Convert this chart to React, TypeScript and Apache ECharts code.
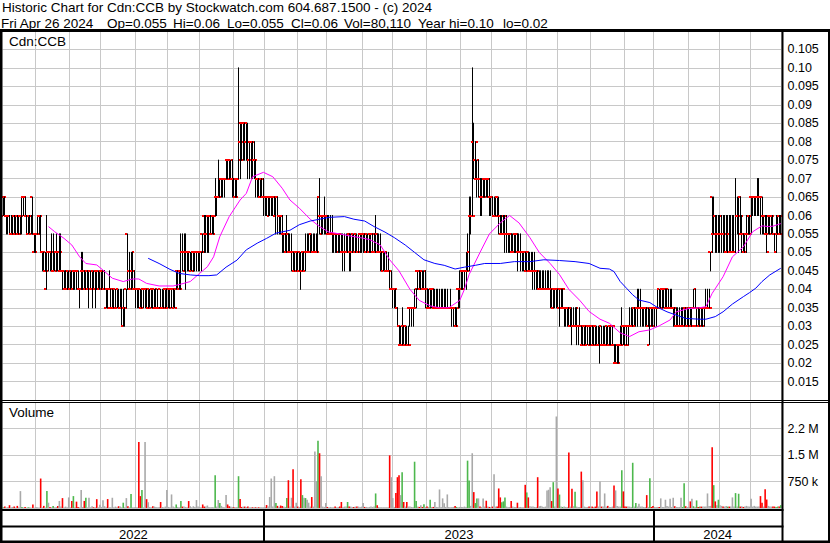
import React, { useEffect, useRef } from 'react';
import * as echarts from 'echarts';

const FONT = 'Liberation Sans';

// Trading calendar (TSX-V): weekdays between these dates, minus exchange holidays
const FIRST_DAY = '2022-05-02';
const LAST_DAY = '2024-04-26';
const HOLIDAYS = [
  '2022-05-23', '2022-07-01', '2022-08-01', '2022-09-05', '2022-10-10', '2022-12-26', '2022-12-27',
  '2023-01-02', '2023-02-20', '2023-04-07', '2023-05-22', '2023-07-03', '2023-08-07', '2023-09-04',
  '2023-10-09', '2023-12-25', '2023-12-26', '2024-01-01', '2024-02-19', '2024-03-29',
];

// Daily prices in cents, one line per month (May 2022 ... Apr 2024)
const opens = [
  6,6.5,6,6,6,5.5,5.5,6,5.5,6,5.5,6,6,6.5,6.5,6,5.5,6,5.5,6.5,5,
  5.5,5.5,6,6,5,5,4.5,4,5,5,5,4.5,4.5,5,5,5,4.5,4.5,4.5,4,4,4.5,
  4,4.5,4,4.5,4.5,4.5,4,4,4.5,4.5,4,4.5,4,4.5,4,4.5,4,4.5,4.5,4,
  4.5,4.5,4,3.5,4,4,4,3.5,3.5,4,3.5,4,3.5,3.5,3,3.5,4,5.5,4.5,4,4.5,4,
  4,4,4,4,3.5,4,4,4,3.5,4,3.5,4,4,3.5,3.5,3.5,4,3.5,3.5,4,4,
  3.5,4,4,4,3.5,4,4.5,4,4.5,5,5,5,5,5,5,4.5,5,5,5,5,
  5,5,5.5,6,5.5,5.5,6,6,5.5,6,6,6.5,6.5,6.5,7,7,7,7,7.5,7.5,7.5,7,
  7,6.5,7,7,8,8.5,8.5,8.5,8,8.5,7.5,8,8,7.5,7.5,7,7,6.5,7,6.5,
  6.5,6.5,6.5,6.5,6.5,6.5,6.5,6,6.5,6,6,6,5.5,5.5,5,5.5,5,5,5,4.5,5,
  5,4.5,5,4.5,5,4.5,5,5,5,5.5,5,5,5,5,6.5,6,6,6,6,
  6,5.5,5.5,5.5,5.5,5.5,5.5,5.5,5.5,5.5,5,5,5,5,5.5,5,5,5.5,5,5.5,5,5.5,5.5,
  5.5,5.5,5,5.5,5,5.5,5.5,5,5,5.5,5,5,5,4.5,5,4.5,4.5,4.5,4,
  4,4,4,3.5,3,2.5,2.5,3,2.5,3,2.5,3.5,3.5,3.5,3.5,3.5,4.5,4.5,4,4.5,4,4,
  4,3.5,3.5,4,4,3.5,3.5,3.5,3.5,3.5,3.5,3.5,3.5,3.5,3.5,3.5,3.5,3.5,3.5,3,4,4,
  4,4.5,4.5,4.5,4.5,5,6,6,8,7.5,7,7,7,6.5,6.5,7,7,7,7,6.5,
  6.5,6,6,6.5,6.5,6,5.5,5.5,5.5,5.5,5.5,5.5,5.5,5,5,5.5,5.5,5,5,5,5,5,
  4.5,5,4.5,4.5,4.5,4.5,4.5,4.5,4,4,4,4,4,4,4,4,4,3.5,4,4,
  4,3.5,4,3.5,3.5,3.5,3.5,3.5,3,3.5,3,3,3,3,3,3,2.5,3,3,2.5,3,
  3,3,2.5,3,3,2.5,2.5,3,2.5,2.5,2.5,3,2.5,3,3,2.5,2,2,2.5,2.5,2.5,3,
  3,3,3,3,3,3,3.5,3,3.5,3.5,3.5,3.5,3.5,3.5,3.5,3,2.5,3.5,3.5,
  3.5,3.5,3.5,4,3.5,4,4,4,3.5,3.5,3.5,3.5,3.5,3.5,3,3,3,3,3,3,3.5,3,
  3,3.5,3,3.5,3.5,3,3.5,3,3.5,3.5,3.5,3.5,3.5,3.5,5,6.5,5.5,6,5.5,5.5,
  5.5,5.5,5.5,5.5,5,5,5.5,5,5,5,5,6,6,6.5,5.5,5.5,5,5.5,5.5,6,
  6.5,6.5,6.5,6.5,6.5,6.5,6.5,6.5,6,6,5.5,5.5,6,6,6,5.5,5,5.5,6,5.5,
];
const highs = [
  6.5,6.5,6,6,6,6,6,6,6,6,6,6,6.5,6.5,6.5,6,6,6,6,6.5,5.5,
  5.5,6,6,6,5,5,5,6,5,5,5.5,5.5,5,5.5,5,5.5,5.5,4.5,4.5,4.5,4.5,4.5,
  4.5,4.5,4.5,4.5,4.5,4.5,4,5,5,4.5,4.5,4.5,4.5,4.5,4.5,4.5,4.5,4.5,4.5,4.5,
  4.5,4.5,4.5,4,4,4.5,4,4,4,4,4,4,4,4,4,3.5,4,5.5,5,5,5,4.5,
  4,4,4,4,4,4,4,4,4,4,4,4,4,4,4,3.5,4,4,4,4,4,
  4,4,4,4,4,4.5,4.5,4.5,5.5,5.5,5.5,5.5,5,5,5,5,5,5,5,5,
  5,5,5.5,6,6,6,6,6,6,6,7,6.5,7.5,7,7,7,7,7.5,7.5,7.5,7.5,7.5,
  7,7,7,10,8.5,8.5,8.5,8.5,8.5,8.5,8,8,8,8,7.5,7,7,7,7,7,
  6.5,6.5,6.5,6.5,6.5,6.5,6.5,6.5,6.5,6,6,6,5.5,5.5,6,5.5,5.5,5.5,5,5,5,
  5,5,5,5,5,5.5,5.5,5.5,5.5,5.5,5.5,5.5,5.5,6.5,7,6,6,6.5,6,
  6,6,6,6,5.5,5.5,5.5,5.5,5.5,5.5,5.5,5.5,5.5,5.5,5.5,5.5,5.5,5.5,5.5,5.5,5.5,5.5,5.5,
  5.5,5.5,5.5,5.5,5.5,5.5,5.5,5.5,6,5.5,5.5,5.5,5,5,5,5,5,4.5,4.5,
  4,4,4,3.5,3,3,3.5,3,3,3,3,3.5,3.5,3.5,4,4,4.5,4.5,4.5,4.5,4.5,4.5,
  4,4,4,4,4,4,4,4,4,4,4,4,4,4,3.5,4,3.5,3.5,3.5,3.5,4,4.5,
  4.5,4.5,4.5,5,5.5,6.5,6.5,10,8.5,8,7.5,7.5,7,7,7,7,7,7,7,6.5,
  6.5,6.5,6.5,6.5,6.5,6,6,6,6,6,5.5,5.5,5.5,5.5,5.5,5.5,5.5,5.5,5.5,5,5,5,
  5,5,5,5,5,5,4.5,4.5,4.5,4.5,4.5,4.5,4.5,4.5,4.5,4.5,4,4,4,4,
  4,4,4,4,3.5,3.5,3.5,3.5,3.5,3.5,3.5,3.5,3.5,3,3.5,3,3,3,3,3,3,
  3,3,3,3,3,3,3,3,3,3,3,3,3,3,3,2.5,2.5,2.5,2.5,3,3.5,3,
  3,3,3,3.5,3.5,3.5,3.5,3.5,4,4,4,3.5,3.5,3.5,3.5,3.5,3.5,3.5,3.5,
  3.5,3.5,4,4,4,4,4,4,4,4,4,4,3.5,3.5,3.5,3.5,3.5,3.5,3.5,3.5,3.5,3.5,
  3.5,3.5,3.5,4,4,3.5,3.5,3.5,3.5,3.5,3.5,4,4,4,5,6.5,6.5,6,6,6,
  6,6,6,6,6,6,6,6,6,6,7,6.5,6.5,6.5,6,5.5,5.5,6,6,6,
  6.5,6.5,6.5,6.5,7,7,6.5,6.5,6,6,6,6,6,6,6,5.5,6,6,6,6,
];
const lows = [
  6,6,5.5,5.5,5.5,5.5,5.5,5.5,5.5,5.5,5.5,5.5,5.5,6,6,5.5,5.5,5.5,5.5,5.5,5,
  5,5.5,5.5,5,4.5,4.5,4.5,4,4.5,4.5,4.5,4.5,4.5,4.5,4.5,4.5,4.5,4,4,4,4,4,
  4,4,4,4,4,4,3.5,4,4,4,4,4,3.5,4,3.5,4,3.5,4,4,4,
  4,4,4,3.5,3.5,4,3.5,3.5,3.5,3.5,3.5,3.5,3.5,3,3,3,3.5,4,4,4,4,4,
  3.5,3.5,3.5,3.5,3.5,3.5,3.5,3.5,3.5,3.5,3.5,3.5,3.5,3.5,3.5,3.5,3.5,3.5,3.5,3.5,3.5,
  3.5,3.5,3.5,3.5,3.5,4,4,4,4,4.5,4.5,4,4.5,4.5,4.5,4.5,4.5,4.5,4.5,4.5,
  4.5,4.5,5,5,5,5,5,5.5,5.5,5.5,6,6,6.5,6.5,6.5,6.5,6.5,7,7,7,7,6.5,
  6.5,6.5,6.5,7,7,7.5,7.5,7.5,7.5,7,7,7,7,7,6.5,6.5,6.5,6.5,6.5,6,
  6,6,6,6,6,6,6,5.5,5.5,5.5,5.5,5,5,5,5,5,5,4.5,4.5,4.5,4.5,
  4.5,4.5,4,4.5,4.5,4.5,5,5,5,5,5,5,5,5,5.5,5.5,5.5,5.5,5.5,
  5.5,5.5,5.5,5,5,5,5,5,5,5,4.5,4.5,5,5,4.5,4.5,5,5,5,5,5,5,5,
  5,5,5,5,5,5,5,5,5,5,5,4.5,4.5,4.5,4.5,4.5,4.5,4,4,
  3.5,3.5,3.5,3,2.5,2.5,2.5,2.5,2.5,2.5,2.5,3,3,3,3.5,3.5,4,4,4,4,4,3.5,
  3.5,3.5,3.5,3.5,3.5,3.5,3.5,3.5,3.5,3.5,3.5,3.5,3.5,3.5,3.5,3.5,3,3,3,3,3.5,3.5,
  4,4,4,4,4.5,4.5,5.5,6,7,7,6.5,6.5,6,6,6.5,6.5,6.5,6.5,6,6,
  6,6,6,6,5.5,5.5,5.5,5.5,5,5,5,5,5,5,5,5,4.5,5,4.5,4.5,4.5,4.5,
  4.5,4.5,4.5,4.5,4,4,4,4,4,4,4,4,4,4,4,3.5,3.5,3.5,3.5,3.5,
  3.5,3,3.5,3.5,3,3,3,3,3,2.5,3,3,2.5,2.5,3,2.5,2.5,2.5,2.5,2.5,2.5,
  2.5,2.5,2.5,2.5,2.5,2.5,2,2.5,2.5,2.5,2.5,2.5,2.5,2.5,2.5,2,2,2,2,2.5,2.5,2.5,
  2.5,2.5,2.5,3,3,3,3,3,3,3.5,3,3,3,3,3,3,2.5,3,3,
  3,3,3.5,3.5,3.5,3.5,3.5,3.5,3.5,3.5,3.5,3.5,3,3,3,3,3,3,3,3,3,3,
  3,3,3,3.5,3.5,3,3,3,3,3,3,3.5,3.5,3.5,4.5,5,5.5,5,5,5,
  5,5,5,5,5,5,5,5,5,5,5,5.5,5,5.5,5,5,5,5,5.5,5.5,
  5.5,6,6,6,6,6,5.5,5.5,5.5,5.5,5,5.5,5.5,5.5,5.5,5,5,5.5,5.5,5.5,
];
const closes = [
  6.5,6,6,6,5.5,5.5,5.5,5.5,5.5,5.5,5.5,6,6.5,6.5,6,6,6,6,5.5,5.5,5,
  5.5,5.5,6,5,5,4.5,4.5,5,5,4.5,5,5,4.5,5,4.5,5,4.5,4,4.5,4,4,4.5,
  4,4,4.5,4.5,4,4,4,4,4.5,4,4.5,4.5,4,4.5,4,4,4,4,4.5,4,
  4.5,4.5,4,3.5,3.5,4,4,3.5,3.5,4,3.5,3.5,3.5,3.5,3.5,3.5,4,4.5,4.5,5,4.5,4,
  4,4,3.5,3.5,4,4,4,3.5,3.5,4,3.5,3.5,4,3.5,3.5,3.5,3.5,3.5,3.5,4,4,
  3.5,4,4,4,3.5,4.5,4.5,4,5,4.5,5,5,5,4.5,5,4.5,5,5,5,5,
  5,5,5,5.5,5.5,5.5,6,6,5.5,6,6.5,6.5,6.5,7,7,7,7,7,7,7,7.5,7,
  6.5,6.5,7,7.5,7.5,8,8.5,8,8,7.5,7.5,8,7.5,7.5,7,7,6.5,6.5,7,6.5,
  6.5,6,6.5,6.5,6.5,6.5,6.5,6.5,6,6,5.5,5.5,5.5,5.5,5.5,5,5,5,4.5,4.5,5,
  4.5,4.5,4.5,5,5,5,5,5,5,5,5,5,5,6,5.5,6,6,6,6,
  5.5,5.5,5.5,5.5,5.5,5,5.5,5.5,5,5,5,5,5,5.5,5,5,5,5,5,5,5,5.5,5.5,
  5.5,5,5,5.5,5,5.5,5.5,5,5.5,5,5,5,5,4.5,5,4.5,4.5,4,4,
  4,4,3.5,3,2.5,2.5,3,2.5,2.5,2.5,2.5,3.5,3.5,3.5,4,4,4.5,4,4,4,4.5,4,
  3.5,3.5,4,4,3.5,3.5,3.5,3.5,3.5,3.5,3.5,3.5,3.5,3.5,3.5,3.5,3.5,3.5,3,3.5,4,4,
  4,4.5,4.5,4.5,5,6,6,6,7.5,8,7.5,7,6.5,6.5,6.5,7,6.5,7,6.5,6.5,
  6,6,6,6,6,5.5,6,6,6,5.5,5.5,5.5,5,5,5,5.5,5,5,5,5,5,4.5,
  5,4.5,4.5,4.5,4.5,4.5,4.5,4,4,4,4,4,4,4,4,4,3.5,4,4,4,
  3.5,4,4,4,3.5,3.5,3.5,3,3,3,3,3.5,3,3,3,2.5,2.5,3,3,2.5,2.5,
  3,2.5,2.5,2.5,2.5,2.5,2.5,2.5,2.5,2.5,2.5,2.5,2.5,3,3,2,2,2,2.5,2.5,3,2.5,
  2.5,2.5,3,3,3,3.5,3.5,3.5,3.5,3.5,3.5,3.5,3.5,3.5,3,3,3.5,3,3,
  3.5,3.5,3.5,3.5,3.5,4,4,4,3.5,3.5,3.5,3.5,3.5,3,3,3,3,3,3.5,3.5,3,3,
  3,3,3,4,3.5,3.5,3,3.5,3,3.5,3.5,3.5,3.5,3.5,5,5.5,6,5.5,5.5,6,
  5.5,5.5,5,5.5,5,5.5,5,5,5,5,6,6,6.5,6,5.5,5,5,5.5,5.5,6,
  6.5,6.5,6.5,6.5,6.5,6.5,6,6,6,5.5,5,5.5,6,6,5.5,5,5.5,6,5.5,6,
];
// Daily volume in thousands of shares
const volumesK = [
  20,40,15,30,80,20,30,40,15,60,20,478,30,15,30,10,20,20,10,100,10,
  30,20,15,834,20,60,15,478,150,30,20,60,20,30,60,200,40,280,20,40,20,300,
  20,200,337,20,180,30,20,506,30,200,290,20,290,20,50,20,20,250,20,90,
  30,220,50,20,253,20,20,290,20,40,20,50,40,20,150,20,280,50,20,394,20,20,
  30,20,1870,337,506,20,1870,250,160,30,20,50,40,30,20,30,170,30,20,40,506,
  30,20,384,40,20,100,30,20,197,40,40,30,20,197,50,20,50,30,225,40,
  30,20,100,40,40,70,30,20,30,20,928,40,225,140,60,30,20,365,100,50,40,30,
  20,20,30,900,253,30,40,40,30,40,20,20,20,20,20,20,20,20,20,20,
  30,84,40,310,834,40,900,140,60,30,70,60,40,30,281,787,40,290,1100,40,150,
  40,30,815,365,290,281,234,150,40,310,40,1600,760,1900,1550,900,40,30,140,
  30,20,30,20,20,40,20,30,40,170,30,40,40,170,40,40,30,28,40,40,40,30,40,
  140,30,30,20,30,40,30,40,412,75,30,20,20,20,20,20,20,1490,872,
  281,30,422,872,928,365,1010,170,40,170,40,40,30,30,1310,200,40,30,75,30,103,30,
  40,30,234,30,30,169,30,30,525,30,272,131,30,384,30,20,30,30,56,30,20,30,
  30,30,40,30,1340,778,60,1550,450,140,272,272,40,30,272,40,206,40,30,30,
  40,956,40,40,553,300,160,187,300,40,30,30,197,40,30,30,150,30,30,20,20,656,
  440,300,50,40,40,30,30,872,50,60,40,30,40,497,516,590,197,731,40,2590,
  553,380,40,30,40,30,30,1570,40,543,50,459,40,30,30,1030,787,40,30,30,40,
  40,40,30,40,469,40,750,40,40,412,40,60,30,30,40,637,497,60,40,40,1070,470,
  40,40,40,40,30,1280,40,140,40,120,40,40,30,30,365,30,844,30,60,
  30,30,30,30,272,30,30,234,60,40,262,30,290,50,30,30,30,290,30,703,50,30,
  30,187,262,50,30,215,30,40,40,40,40,40,412,60,60,1720,647,187,80,234,
  80,60,40,40,60,40,40,40,300,40,422,40,403,40,50,30,40,60,40,40,
  262,40,60,40,40,40,337,150,40,534,240,60,40,40,40,40,30,40,40,80.11,
];
// Moving averages: [trading-day index, cents]
const maFast = [
  [29,5.70],[33,5.56],[39,5.38],[44,5.20],[49,4.88],[53,4.70],[60,4.66],[64,4.52],[70,4.30],[77,4.21],
  [83,4.28],[87,4.28],[92,4.16],[100,4.09],[109,4.09],[114,4.14],[120,4.21],[126,4.43],[131,4.61],[135,4.88],
  [139,5.43],[145,5.97],[152,6.42],[156,6.60],[160,7.05],[167,7.17],[173,7.05],[179,6.74],[184,6.42],[190,6.2],
  [197,5.9],[203,5.7],[209,5.55],[216,5.5],[222,5.45],[229,5.4],[235,5.35],[242,5.2],[248,4.8],[254,4.5],
  [261,4.0],[267,3.7],[274,3.55],[280,3.5],[286,3.5],[293,3.7],[296,4.0],[299,4.4],[306,5.0],[312,5.5],
  [319,5.8],[325,6.0],[331,5.8],[338,5.4],[344,5.0],[351,4.7],[357,4.4],[363,4.0],[370,3.7],[376,3.4],
  [383,3.19],[389,3.08],[396,2.82],[402,2.72],[408,2.85],[415,2.90],[421,3.01],[428,3.17],[432,3.39],[440,3.48],
  [447,3.50],[451,3.53],[455,3.89],[462,4.34],[468,4.88],[475,5.15],[481,5.56],[487,5.72],[491,5.70],[494,5.71],
  [499,5.78],
];
const maSlow = [
  [93,4.84],[100,4.70],[107,4.54],[113,4.43],[120,4.39],[126,4.37],[132,4.37],[137,4.39],[143,4.60],[150,4.79],
  [156,5.07],[163,5.25],[169,5.38],[175,5.52],[184,5.6],[190,5.75],[197,5.85],[203,5.9],[209,5.95],[219,5.97],
  [225,5.9],[232,5.85],[238,5.7],[245,5.55],[251,5.4],[258,5.2],[264,5.0],[270,4.8],[277,4.7],[283,4.65],
  [290,4.55],[296,4.6],[303,4.65],[309,4.7],[319,4.7],[328,4.75],[338,4.75],[347,4.8],[357,4.78],[367,4.75],
  [376,4.7],[383,4.57],[389,4.55],[392,4.48],[396,4.21],[400,4.03],[404,3.85],[408,3.71],[415,3.64],[419,3.53],
  [426,3.39],[432,3.30],[438,3.21],[447,3.19],[451,3.19],[457,3.26],[462,3.39],[468,3.60],[475,3.80],[479,3.91],
  [483,4.03],[487,4.21],[492,4.39],[499,4.57],
];

const TITLE = 'Historic Chart for Cdn:CCB by Stockwatch.com 604.687.1500 - (c) 2024';
const HEADER_ITEMS: [string, number][] = [
  ['Fri Apr 26 2024', 1], ['Op=0.055', 107], ['Hi=0.06', 173], ['Lo=0.055', 227],
  ['Cl=0.06', 291], ['Vol=80,110', 344], ['Year hi=0.10', 418], ['lo=0.02', 503],
];

function tradingDays(): string[] {
  const out: string[] = [];
  const d = new Date(FIRST_DAY + 'T00:00:00Z');
  const end = new Date(LAST_DAY + 'T00:00:00Z');
  while (d.getTime() <= end.getTime()) {
    const wd = d.getUTCDay();
    const s = d.toISOString().slice(0, 10);
    if (wd !== 0 && wd !== 6 && HOLIDAYS.indexOf(s) < 0) out.push(s);
    d.setUTCDate(d.getUTCDate() + 1);
  }
  return out;
}

const PLOT_L = 2.5;
const PLOT_W = 779;

export default function App() {
  const ref = useRef<HTMLDivElement>(null);
  useEffect(() => {
    const el = ref.current;
    if (!el) return;
    const chart = echarts.init(el, undefined, { renderer: 'svg', width: 830, height: 543 });
    const dates = tradingDays();
    const N = Math.min(dates.length, opens.length, highs.length, lows.length, closes.length, volumesK.length);
    const cats = dates.slice(0, N);
    const isMonthStart = (i: number) => i > 0 && i < N && cats[i].slice(0, 7) !== cats[i - 1].slice(0, 7);

    const ohlc = cats.map((_, i) => [i, opens[i] / 100, highs[i] / 100, lows[i] / 100, closes[i] / 100]);
    const vol = cats.map((_, i) => {
      const up = closes[i] > opens[i];
      const dn = closes[i] < opens[i];
      return {
        value: volumesK[i] * 1000,
        itemStyle: { color: up ? '#4db84d' : dn ? '#ff0000' : '#a9a9a9' },
      };
    });

    const gridLine = { color: '#c8c8c8', width: 1 };
    const xCommon = (gridIndex: number) => ({
      type: 'category',
      gridIndex,
      data: cats,
      boundaryGap: true,
      axisLine: { show: false },
      axisTick: { show: false },
      axisLabel: { show: false },
      splitLine: { show: true, interval: (i: number) => isMonthStart(i), lineStyle: gridLine },
    });

    const priceFmt = (v: number) => {
      const m = Math.round(v * 1000);
      return m % 10 === 0 ? (m / 1000).toFixed(2) : (m / 1000).toFixed(3);
    };
    const volFmt = (v: number) =>
      v >= 1e6 ? (Math.floor(v / 1e5) / 10).toFixed(1) + ' M' : Math.round(v / 1000) + ' k';

    chart.setOption({
      animation: false,
      backgroundColor: '#ffffff',
      textStyle: { fontFamily: FONT },
      grid: [
        { left: PLOT_L, top: 31, width: PLOT_W, height: 369 },
        { left: PLOT_L, top: 402, width: PLOT_W, height: 106 },
      ],
      xAxis: [xCommon(0), xCommon(1)],
      yAxis: [
        {
          type: 'value', gridIndex: 0, position: 'right', min: 0.01, max: 0.11, interval: 0.005,
          axisLine: { show: false }, axisTick: { show: false },
          axisLabel: { margin: 6, showMinLabel: false, showMaxLabel: false, formatter: priceFmt, color: '#000', fontSize: 12.5, fontFamily: FONT },
          splitLine: { show: true, lineStyle: gridLine },
        },
        {
          type: 'value', gridIndex: 1, position: 'right', min: 0, max: 3000000, interval: 750000,
          axisLine: { show: false }, axisTick: { show: false },
          axisLabel: { margin: 6, showMinLabel: false, showMaxLabel: false, formatter: volFmt, color: '#000', fontSize: 12.5, fontFamily: FONT },
          splitLine: { show: true, lineStyle: gridLine },
        },
      ],
      series: [
        {
          type: 'custom', name: 'Price', xAxisIndex: 0, yAxisIndex: 0, data: ohlc, clip: true,
          encode: { x: 0, y: [1, 2, 3, 4] },
          renderItem: (_p: any, api: any) => {
            const i = api.value(0);
            const ph = api.coord([i, api.value(2)]);
            const pl = api.coord([i, api.value(3)]);
            const po = api.coord([i, api.value(1)]);
            const pc = api.coord([i, api.value(4)]);
            const x = Math.floor(ph[0]) + 0.5;
            return {
              type: 'group',
              children: [
                { type: 'line', shape: { x1: x, y1: ph[1] - 0.5, x2: x, y2: pl[1] + 0.5 }, style: { stroke: '#000', lineWidth: 1 } },
                { type: 'rect', shape: { x: x - 2.5, y: Math.round(po[1]) - 1, width: 2, height: 2 }, style: { fill: '#ff0000' } },
                { type: 'rect', shape: { x: x + 0.5, y: Math.round(pc[1]) - 1, width: 2, height: 2 }, style: { fill: '#ff0000' } },
              ],
            };
          },
        },
        {
          type: 'line', name: 'MA fast', xAxisIndex: 0, yAxisIndex: 0, showSymbol: false, symbol: 'none',
          data: maFast.map(([i, v]) => [i, v / 100]), lineStyle: { color: '#ff00ff', width: 1 }, z: 3,
        },
        {
          type: 'line', name: 'MA slow', xAxisIndex: 0, yAxisIndex: 0, showSymbol: false, symbol: 'none',
          data: maSlow.map(([i, v]) => [i, v / 100]), lineStyle: { color: '#0000ff', width: 1 }, z: 3,
        },
        {
          type: 'bar', name: 'Volume', xAxisIndex: 1, yAxisIndex: 1, data: vol, barWidth: 1.6,
        },
      ],
    });

    const c0 = chart.convertToPixel({ xAxisIndex: 0 }, 0) as unknown as number;
    const c1 = chart.convertToPixel({ xAxisIndex: 0 }, 1) as unknown as number;
    const band = c1 - c0;
    const leftOf = (i: number) => (chart.convertToPixel({ xAxisIndex: 0 }, i) as unknown as number) - band / 2;
    const plotR = PLOT_L + PLOT_W;

    const yearStarts: number[] = [0];
    for (let i = 1; i < N; i++) if (cats[i].slice(0, 4) !== cats[i - 1].slice(0, 4)) yearStarts.push(i);

    const black = { fill: '#000' };
    const g: any[] = [];
    const rect = (x: number, y: number, w: number, h: number) =>
      g.push({ type: 'rect', z: 100, shape: { x, y, width: w, height: h }, style: black });
    const text = (s: string, x: number, y: number, size: number, align = 'left') =>
      g.push({ type: 'text', z: 101, x, y, style: { text: s, fill: '#000', fontSize: size, fontFamily: FONT, textAlign: align, textVerticalAlign: 'middle' } });

    text(TITLE, 2, 7.5, 13.5);
    HEADER_ITEMS.forEach(([s, x]) => text(s, x, 23.5, 13.5));
    text('Cdn:CCB', 9, 41.5, 13.5);
    text('Volume', 9, 412, 13.5);

    rect(0, 29, 830, 3);
    rect(0, 29, 2.5, 514);
    rect(plotR, 29, 2, 514);
    rect(828, 29, 2, 514);
    rect(0, 400, 830, 1);
    rect(0, 402, 830, 1);
    rect(0, 509, plotR + 2, 2);
    rect(0, 525.5, plotR + 2, 2);
    rect(0, 540.5, 830, 2.5);

    yearStarts.forEach((s, k) => {
      const xl = k === 0 ? PLOT_L : leftOf(s);
      const next = yearStarts[k + 1];
      const xr = next === undefined ? plotR : leftOf(next);
      if (k > 0) rect(Math.round(xl) - 1, 509, 2, 33);
      text(cats[s].slice(0, 4), (xl + xr) / 2, 534.5, 13, 'center');
    });

    chart.setOption({ graphic: g });
    return () => chart.dispose();
  }, []);
  return <div ref={ref} style={{ position: 'fixed', left: 0, top: 0, width: 830, height: 543, background: '#fff' }} />;
}
